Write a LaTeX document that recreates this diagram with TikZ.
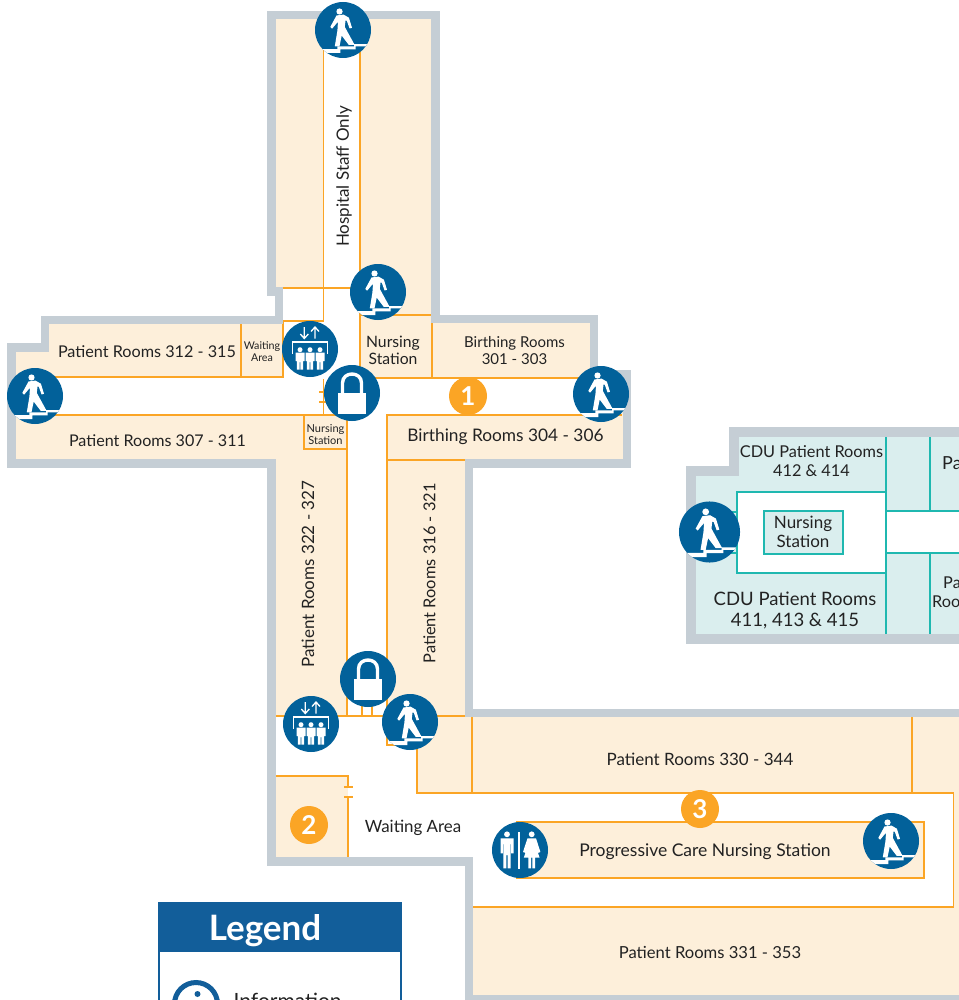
\documentclass[tikz,border=0pt]{standalone}
\usepackage{fontspec}
\setmainfont{Lato}
\usepackage{xcolor}
\usetikzlibrary{positioning}
\definecolor{roomfill}{HTML}{FDEFDA}
\definecolor{roomline}{HTML}{FBA525}
\definecolor{wallgrey}{HTML}{C5CED5}
\definecolor{signblue}{HTML}{02619A}
\definecolor{legendblue}{HTML}{125E9A}
\definecolor{cdufill}{HTML}{DAEEEE}
\definecolor{cduline}{HTML}{1FB8B0}
\definecolor{inktext}{HTML}{222222}
\newcommand{\fsize}[2]{\fontsize{#1}{#2}\selectfont}
\tikzset{
    wall/.style={draw=wallgrey, line width=8.5pt, line join=miter},
    cduwall/.style={draw=wallgrey, line width=10pt, line join=miter},
    room/.style={draw=roomline, line width=1.4pt},
    cduroom/.style={draw=cduline, line width=1.4pt},
    label/.style={text=inktext, font=\fsize{16.5}{19}, align=center, inner sep=0pt},
    smalllabel/.style={text=inktext, font=\fsize{10.7}{12}, align=center, inner sep=0pt},
    badge/.style={circle, fill=roomline, minimum size=38pt, inner sep=0pt, text=white, font=\fsize{26}{26}\bfseries},
    walksign/.pic={
        \fill[signblue] (0,0) circle[radius=28];
        \begin{scope}
            \clip (0,0) circle[radius=28];
            \fill[white] (-3.5,-18.5) circle[radius=3.1];
            \fill[white] (-6.5,-14.5) -- (0.5,-15.4) -- (5.9,-12.3) -- (9,-2.2) -- (6.6,-1.5) -- (3.8,-9.2) -- (2.5,-9.5) -- (1.8,-3.1) -- (11.6,14.8) -- (5.7,14.8) -- (-1.3,5.6) -- (-3.5,16.3) -- (-8.2,16.3) -- (-5.6,0.6) -- (-5,-8.3) -- (-10.9,-1.3) -- (-12.7,-3.1) -- cycle;
            \fill[white] (-24,19.1) -- (-5.7,19.1) -- (-5.7,16.3) -- (11.2,16.3) -- (11.2,14.2) -- (30,14.2) -- (30,16.3) -- (12.7,16.3) -- (12.7,19.4) -- (-2.6,19.4) -- (-2.6,23) -- (-24,23) -- cycle;
        \end{scope}
    },
    locksign/.pic={
        \fill[signblue] (0,0) circle[radius=28];
        \fill[white] (-14,-0.5) rectangle (14,21);
        \draw[white, line width=3.4pt] (-9.5,0) -- (-9.5,-10) .. controls (-9.5,-22) and (9.5,-22) .. (9.5,-10) -- (9.5,0);
    },
    person/.pic={
        \fill[white] (0,0.7) circle[radius=2.5];
        \fill[white] (-4.5,3.6) -- (4.5,3.6) -- (4.5,12) -- (3.2,12) -- (3.2,20.5) -- (0.4,20.5) -- (0.4,13) -- (-0.4,13) -- (-0.4,20.5) -- (-3.2,20.5) -- (-3.2,12) -- (-4.5,12) -- cycle;
    },
    liftsign/.pic={
        \fill[signblue] (0,0) circle[radius=28];
        \draw[white, line width=1.3pt] (-5.7,-22) -- (-5.7,-11) (-9.7,-15) -- (-5.7,-10.5) -- (-1.7,-15);
        \draw[white, line width=1.3pt] (5,-10.5) -- (5,-21.5) (1,-17.5) -- (5,-22) -- (9,-17.5);
        \draw[white, line width=1.3pt] (-17.3,5) -- (-17.3,-7) -- (17.3,-7) -- (17.3,5);
        \foreach \px in {-10,0,10}
            \pic at (\px,0) {person};
    },
    restsign/.pic={
        \fill[signblue] (0,0) circle[radius=28];
        \fill[white] (-1.6,-18.5) rectangle (0.2,18.5);
        \fill[white] (-13,-15.7) circle[radius=2.9];
        \fill[white] (-19.5,-11.7) -- (-6.5,-11.7) -- (-6.5,3.3) -- (-8.8,3.3) -- (-8.8,-6) -- (-9.3,-6) -- (-9.3,18.3) -- (-12.4,18.3) -- (-12.4,5) -- (-13.6,5) -- (-13.6,18.3) -- (-16.7,18.3) -- (-16.7,-6) -- (-17.2,-6) -- (-17.2,3.3) -- (-19.5,3.3) -- cycle;
        \fill[white] (11.7,-15.7) circle[radius=2.9];
        \fill[white] (7.5,-11.7) -- (16,-11.7) -- (20.4,2) -- (18.2,2.8) -- (15.4,-5) -- (19.5,7.5) -- (15,7.5) -- (15,18.3) -- (12.4,18.3) -- (12.4,7.5) -- (11,7.5) -- (11,18.3) -- (8.4,18.3) -- (8.4,7.5) -- (3.9,7.5) -- (8,-5) -- (5.2,2.8) -- (3,2) -- cycle;
    }
}

\begin{document}
\begin{tikzpicture}[x=1pt, y=-1pt]
    \useasboundingbox (0,0) rectangle (958,1000);

    % Floor of the main wing
    \fill[roomfill] (271.5,15) -- (435.5,15) -- (435.5,319) -- (594,319) -- (594,374) -- (627,374) -- (627,463.5) -- (469,463.5) -- (469,713) -- (970,713) -- (970,1010) -- (469,1010) -- (469,861.5) -- (271.5,861.5) -- (271.5,463.5) -- (11.5,463.5) -- (11.5,347.5) -- (45,347.5) -- (45,320) -- (279,320) -- (279,291.5) -- (271.5,291.5) -- cycle;

    % Corridors
    \fill[white] (323.5,40) rectangle (360,288);
    \fill[white] (283,288) rectangle (360,380);
    \fill[white] (16,377) rectangle (347,415);
    \fill[white] (360,378) rectangle (622,415);
    \fill[white] (347,378) rectangle (387,716);
    \fill[white] (276,716) rectangle (417,776);
    \fill[white] (348,776) rectangle (417,857);
    \fill[white] (417,793) rectangle (473,857);
    \fill[white] (473,793) rectangle (953.5,907);

    % Rooms in the top wing
    \draw[room] (323.5,50) -- (323.5,321) -- (283,321) -- (283,377) -- (50,377);
    \draw[room] (276,288) -- (355,288);
    \draw[room] (360,50) -- (360,378);
    \draw[room] (241,324) -- (241,377);
    \draw[room] (360,315) -- (434,315);
    \draw[room] (432,315) -- (432,378);
    \draw[room] (360,378) -- (590,378);

    % Rooms round the crossing
    \draw[room] (50,415) -- (304,415);
    \draw[room] (304,415) rectangle (347,449);
    \draw[room] (347,415) -- (347,716);
    \draw[room] (323.5,379) -- (323.5,415);
    \foreach \y in {392,402}
        \draw[room] (319,\y) -- (340,\y);
    \draw[room] (387,716) -- (387,415) -- (622,415);
    \draw[room] (387,460) -- (465,460);

    % Rooms in the lower wing
    \draw[room] (276,716) -- (473,716);
    \foreach \x in {362,372}
        \draw[room] (\x,706) -- (\x,716);
    \draw[room] (387,716) -- (387,745) -- (400,745);
    \draw[room] (417,730) -- (417,793) -- (953.5,793) -- (953.5,907) -- (473,907);
    \draw[room] (472,717) -- (472,793);
    \draw[room] (912,717) -- (912,793);
    \draw[room] (276,776) -- (348,776) -- (348,787);
    \draw[room] (348,797) -- (348,857);
    \foreach \y in {787,797}
        \draw[room] (344,\y) -- (353,\y);
    \fill[roomfill] (517,822) rectangle (924,878);
    \draw[room] (517,822) rectangle (924,878);

    % Walls of the main wing
    \draw[wall] (970,713) -- (469,713) -- (469,463.5) -- (627,463.5) -- (627,374) -- (594,374) -- (594,319) -- (435.5,319) -- (435.5,15) -- (271.5,15) -- (271.5,291.5) -- (279,291.5) -- (279,320) -- (45,320) -- (45,347.5) -- (11.5,347.5) -- (11.5,463.5) -- (271.5,463.5) -- (271.5,861.5) -- (469,861.5) -- (469,999) -- (970,999);

    % CDU wing
    \fill[cdufill] (970,432) -- (734,432) -- (734,470.5) -- (690.5,470.5) -- (690.5,639) -- (970,639) -- cycle;
    \fill[white] (737,492) rectangle (886,573);
    \fill[white] (886,511) rectangle (970,553);
    \fill[cdufill] (764,511) rectangle (843,554);
    \draw[cduroom] (737,492) rectangle (886,573);
    \draw[cduroom] (764,511) rectangle (843,554);
    \draw[cduroom] (886,437) -- (886,634);
    \draw[cduroom] (930,437) -- (930,511);
    \draw[cduroom] (930,553) -- (930,634);
    \draw[cduroom] (886,511) -- (970,511);
    \draw[cduroom] (886,553) -- (970,553);
    \draw[cduroom] (725,512) -- (737,512);
    \draw[cduroom] (725,553) -- (737,553);
    \draw[cduwall] (970,432) -- (734,432) -- (734,470.5) -- (690.5,470.5) -- (690.5,639) -- (970,639);

    % Labels
    \node[label, rotate=90, font=\fsize{17}{19}] (hospital) at (344,176.5) {Hospital Staff Only};
    \node[label, font=\fsize{16.2}{19}] (rooms312) at (147,352) {Patient Rooms 312 - 315};
    \node[smalllabel] (waiting312) at (262,352) {Waiting\\Area};
    \node[label, font=\fsize{16.1}{19}] (rooms307) at (157.5,441) {Patient Rooms 307 - 311};
    \node[label, font=\fsize{15.7}{17.5}] (nursing1) at (393,350.5) {Nursing\\Station};
    \node[label, font=\fsize{15}{17.5}] (birthing301) at (514.5,350.5) {Birthing Rooms\\301 - 303};
    \node[label, font=\fsize{17.3}{19}] (birthing304) at (505.5,436.5) {Birthing Rooms 304 - 306};
    \node[smalllabel, font=\fsize{11}{12}] (nursing2) at (325.5,434.5) {Nursing\\Station};
    \node[label, rotate=90, font=\fsize{17}{19}] (rooms322) at (308,574) {Patient Rooms 322 - 327};
    \node[label, rotate=90, font=\fsize{16.4}{19}] (rooms316) at (429.5,573.5) {Patient Rooms 316 - 321};
    \node[label, font=\fsize{16.9}{19}] (waiting) at (413,827.5) {Waiting Area};
    \node[label, font=\fsize{17}{19}] (rooms330) at (700,759.5) {Patient Rooms 330 - 344};
    \node[label, font=\fsize{17.5}{19}] (progressive) at (705,851.5) {Progressive Care Nursing Station};
    \node[label, font=\fsize{16.6}{19}] (rooms331) at (710,952.5) {Patient Rooms 331 - 353};
    \node[label, font=\fsize{16.3}{19}] (cdu412) at (811.5,461.5) {CDU Patient Rooms\\412 \& 414};
    \node[label, font=\fsize{18.5}{21}] (cdu411) at (795,610) {CDU Patient Rooms\\411, 413 \& 415};
    \node[label, font=\fsize{17}{19}] (nursing3) at (803,532) {Nursing\\Station};
    \node[label, font=\fsize{18}{21}, anchor=west] (roomsA) at (942,463) {Pa};
    \node[label, anchor=west, font=\fsize{16.3}{19}, align=left] (roomsB) at (932,592) {\hspace*{11pt}Pa\\Roo};

    % Signs
    \foreach \sx/\sy in {343/30, 378/292, 35/396, 601/394, 410/722, 891/841}
        \pic at (\sx,\sy) {walksign};
    \pic[scale=1.09] at (709.5,532) {walksign};
    \foreach \sx/\sy in {310/349, 311/724}
        \pic at (\sx,\sy) {liftsign};
    \foreach \sx/\sy in {352/393, 368/679}
        \pic at (\sx,\sy) {locksign};
    \pic at (520,850) {restsign};

    \node[badge] (one) at (468,396) {1};
    \node[badge] (two) at (309,825) {2};
    \node[badge] (three) at (700,809) {3};

    % Legend
    \fill[white] (158,902) rectangle (402,1010);
    \draw[legendblue, line width=1.6pt] (159,950) -- (159,1010);
    \draw[legendblue, line width=1.6pt] (401,950) -- (401,1010);
    \fill[legendblue] (158,902) rectangle (402,952);
    \node[text=white, font=\fsize{35}{35}\bfseries, inner sep=0pt] (legend) at (265,930.5) {Legend};
    \draw[legendblue, line width=5pt] (196,1004) circle[radius=21.5];
    \fill[legendblue] (197.5,994) circle[radius=3];
    \node[label, anchor=west, font=\fsize{21}{21}] (info) at (233.5,1001) {Information};
\end{tikzpicture}
\end{document}
